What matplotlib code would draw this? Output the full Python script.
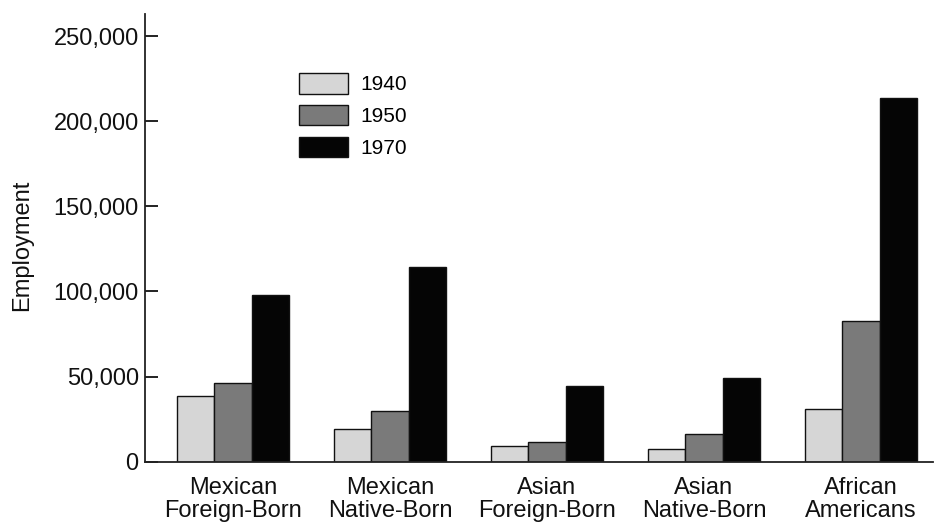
import matplotlib
matplotlib.use("Agg")
import matplotlib.pyplot as plt
import numpy as np

plt.rcParams['font.family'] = ['Liberation Sans', 'DejaVu Sans']

categories = ["Mexican\nForeign-Born", "Mexican\nNative-Born", "Asian\nForeign-Born",
              "Asian\nNative-Born", "African\nAmericans"]
years = ["1940", "1950", "1970"]
emp_1940 = [38800, 19000, 9400, 7300, 31100]
emp_1950 = [46400, 30000, 11400, 16100, 82500]
emp_1970 = [97800, 114200, 44300, 49000, 213500]
y_ticks = [0, 50000, 100000, 150000, 200000, 250000]
y_tick_labels = ["0", "50,000", "100,000", "150,000", "200,000", "250,000"]

series = [emp_1940, emp_1950, emp_1970]
colors = ["#d6d6d6", "#7a7a7a", "#050505"]

fig = plt.figure(figsize=(9.34, 5.22), dpi=100)
ax = fig.add_axes([145/934, 1 - 461.7/522, (933 - 145)/934, (461.7 - 14)/522])

x = np.arange(len(categories))
w = 0.238
for i, (vals, c, lab) in enumerate(zip(series, colors, years)):
    ax.bar(x + (i - 1) * w, vals, width=w, color=c, edgecolor="#111111",
           linewidth=1.0, label=lab)

ax.set_xlim(-0.5605, 4.459)
ax.set_ylim(0, 263000)
ax.set_yticks(y_ticks)
ax.set_yticklabels(y_tick_labels)
ax.set_xticks(x)
ax.set_xticklabels(categories, linespacing=1.08)

for s in ["top", "right"]:
    ax.spines[s].set_visible(False)
for s in ["left", "bottom"]:
    ax.spines[s].set_linewidth(1.3)
    ax.spines[s].set_color("#222222")

ax.tick_params(axis="y", direction="in", length=9.5, width=1.3, pad=4.5,
               labelsize=17, colors="#111111")
ax.tick_params(axis="x", length=0, pad=11, labelsize=17, colors="#111111")

fig.text(22/934, 1 - 245/522, "Employment", rotation=90, ha="center", va="center",
         fontsize=17, color="#111111")

ax.legend(loc="upper left", bbox_to_anchor=(299/934, 1 - 73/522),
          bbox_transform=fig.transFigure, frameon=False, fontsize=15,
          handlelength=2.35, handleheight=1.15, handletextpad=0.62,
          labelspacing=0.5, borderpad=0, borderaxespad=0)

fig.savefig("out.png", dpi=100)
